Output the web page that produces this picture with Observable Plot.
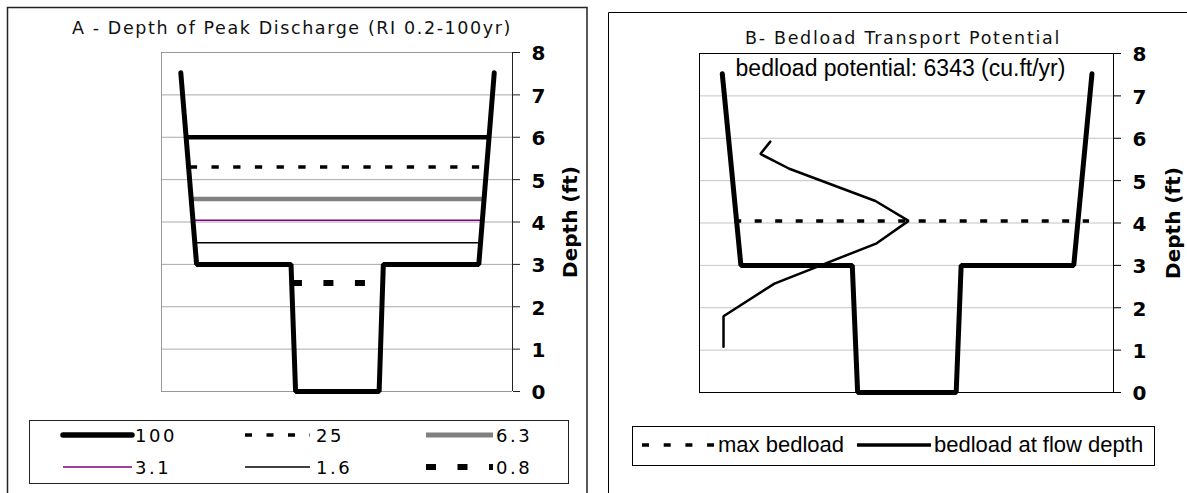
<!DOCTYPE html>
<html><head><meta charset="utf-8">
<script src="https://cdn.jsdelivr.net/npm/d3@7"></script>
<script src="https://cdn.jsdelivr.net/npm/@observablehq/plot@0.6"></script>
<style>
html,body{margin:0;padding:0;background:#fff;}
#root{position:relative;width:1187px;height:493px;overflow:hidden;}
#root > svg{position:absolute;}
</style></head><body><div id="root"></div>
<script>
// ---- data ----
// channel cross-section (relative station, depth ft)
const stations = [5.5, 10, 36.9, 38.2, 62, 63.2, 90.4, 94.8];
const elevations = [7.52, 3, 3, 0, 0, 3, 3, 7.52];
// panel A: recurrence interval (yr) -> depth of peak discharge
const flowLabels = ["100", "25", "6.3", "3.1", "1.6", "0.8"];
const flowDepths = [6.0, 5.3, 4.54, 4.04, 3.51, 2.56];
const flowLeft = [7.4, 8.2, 8.3, 9.0, 9.6, 37.3];
const flowRight = [93.3, 92.7, 92.0, 91.1, 90.3, 63.0];
// panel B: bedload at flow depth
const bedloadX = [17.1, 14.7, 21.7, 42.5, 50.5, 42.8, 18.1, 5.8, 5.8];
const bedloadDepth = [5.92, 5.63, 5.28, 4.52, 4.05, 3.52, 2.57, 1.8, 1.08];
const maxBedloadDepth = [4.05];
const maxBedloadFrom = [8.5];
const maxBedloadTo = [94.2];
const bedloadPotential = 6343;
const yTicks = [0, 1, 2, 3, 4, 5, 6, 7, 8];
const gridTicks = [1, 2, 3, 4, 5, 6, 7];
const titleA = "A - Depth of Peak Discharge (RI 0.2-100yr)";
const titleB = "B- Bedload Transport Potential";
const axisLabel = "Depth (ft)";
const legendB = ["max bedload", "bedload at flow depth"];

// ---- styles ----
const flowStyles = [
  {stroke: "#000", strokeWidth: 4.5},
  {stroke: "#000", strokeWidth: 3.5, strokeDasharray: "7.3,14.4"},
  {stroke: "#808080", strokeWidth: 4.5},
  {stroke: "#800080", strokeWidth: 1.5},
  {stroke: "#000", strokeWidth: 1.3},
  {stroke: "#000", strokeWidth: 6, strokeDasharray: "10,21.5"}
];
const swatchStyles = [
  {stroke: "#000", width: 5.5, cap: "round"},
  {stroke: "#000", width: 3.5, dash: "7,14.5", cap: "butt"},
  {stroke: "#808080", width: 5, cap: "butt"},
  {stroke: "#800080", width: 1.5, cap: "butt"},
  {stroke: "#000", width: 1.3, cap: "butt"},
  {stroke: "#000", width: 6, dash: "10,21.5", cap: "butt"}
];

const root = document.getElementById("root");
const channel = stations.map((s, i) => ({x: s, y: elevations[i]}));
const flows = flowLabels.map((l, i) => ({label: l, depth: flowDepths[i], left: flowLeft[i], right: flowRight[i]}));
const curve = bedloadX.map((v, i) => ({x: v, y: bedloadDepth[i]}));

// ---- overlay: panel borders, titles, legends ----
const ov = d3.select(root).append("svg").attr("width", 1187).attr("height", 493).style("left", "0px").style("top", "0px");
ov.append("path").attr("d", "M7.5,495V7.5H587V495").attr("fill", "none").attr("stroke", "#222").attr("stroke-width", 1.5);
ov.append("path").attr("d", "M608.5,495V12.5H1190").attr("fill", "none").attr("stroke", "#000").attr("stroke-width", 1);
const tfont = "'DejaVu Sans', Verdana, sans-serif";
ov.append("text").attr("x", 292).attr("y", 34).attr("text-anchor", "middle").attr("font-family", tfont)
  .attr("font-size", 17.5).attr("letter-spacing", 1.6).attr("fill", "#111").text(titleA);
ov.append("text").attr("x", 903).attr("y", 44).attr("text-anchor", "middle").attr("font-family", tfont)
  .attr("font-size", 17.5).attr("letter-spacing", 1.7).attr("fill", "#111").text(titleB);

// legend A
ov.append("rect").attr("x", 29.5).attr("y", 420.5).attr("width", 539).attr("height", 63).attr("fill", "none").attr("stroke", "#222");
const colSw = [[63, 132], [245, 310], [426, 493]];
const colTx = [135, 316, 496];
const rowY = [435, 467];
flowLabels.forEach((l, i) => {
  const r = Math.floor(i / 3), c = i % 3, s = swatchStyles[i];
  ov.append("line").attr("x1", colSw[c][0]).attr("x2", colSw[c][1]).attr("y1", rowY[r]).attr("y2", rowY[r])
    .attr("stroke", s.stroke).attr("stroke-width", s.width).attr("stroke-dasharray", s.dash || null).attr("stroke-linecap", s.cap);
  ov.append("text").attr("x", colTx[c]).attr("y", rowY[r] + 7).attr("font-family", tfont).attr("font-size", 18)
    .attr("letter-spacing", 2.5).attr("fill", "#000").text(l);
});

// legend B
ov.append("rect").attr("x", 632.5).attr("y", 426.5).attr("width", 522).attr("height", 39).attr("fill", "none").attr("stroke", "#000");
ov.append("line").attr("x1", 642).attr("x2", 714).attr("y1", 445).attr("y2", 445).attr("stroke", "#000")
  .attr("stroke-width", 3.5).attr("stroke-dasharray", "7,14.7");
ov.append("line").attr("x1", 857).attr("x2", 931).attr("y1", 445).attr("y2", 445).attr("stroke", "#000").attr("stroke-width", 3.3);
const afont = "'Liberation Sans', Arial, sans-serif";
ov.append("text").attr("x", 718).attr("y", 452).attr("font-family", afont).attr("font-size", 22).attr("fill", "#000").text(legendB[0]);
ov.append("text").attr("x", 934).attr("y", 452).attr("font-family", afont).attr("font-size", 22).attr("fill", "#000").text(legendB[1]);

// y axis pieces shared by both panels
function rightAxis(lineColor, labelDx) {
  return [
    Plot.axisY(yTicks, {anchor: "right", tickSize: 7, stroke: lineColor, label: null, tickFormat: () => ""}),
    Plot.text(yTicks, {y: d => d, text: d => String(d), frameAnchor: "right", textAnchor: "start", lineAnchor: "middle",
      dx: 19, dy: 1.5, fontSize: 20, fontWeight: "bold", fill: "#000"}),
    Plot.text([axisLabel], {text: d => d, frameAnchor: "right", textAnchor: "middle", lineAnchor: "middle",
      dx: labelDx, rotate: -90, fontSize: 20, fontWeight: "bold", letterSpacing: 0.5})
  ];
}

// ---- panel A chart ----
const plotA = Plot.plot({
  width: 587, height: 493, marginLeft: 161, marginRight: 75, marginTop: 52, marginBottom: 102,
  x: {domain: [0, 100], axis: null},
  y: {domain: [0, 8], axis: null},
  style: {background: "transparent", fontFamily: tfont, color: "#000", overflow: "visible"},
  marks: [
    Plot.gridY(gridTicks, {stroke: "#a8a8a8", strokeOpacity: 1}),
    Plot.ruleY([0, 8], {stroke: "#999"}),
    Plot.ruleX([0], {stroke: "#999"}),
    ...flows.map((f, i) => Plot.ruleY([f], {y: "depth", x1: "left", x2: "right", ...flowStyles[i]})),
    Plot.line(channel, {x: "x", y: "y", stroke: "#000", strokeWidth: 5, strokeLinejoin: "miter", strokeLinecap: "round"}),
    Plot.ruleX([100], {stroke: "#222"}),
    ...rightAxis("#222", 58)
  ]
});
plotA.style.left = "0px"; plotA.style.top = "0px";
root.appendChild(plotA);

// ---- panel B chart ----
const plotB = Plot.plot({
  width: 587, height: 493, marginLeft: 99, marginRight: 74, marginTop: 53, marginBottom: 101,
  x: {domain: [0, 100], axis: null},
  y: {domain: [0, 8], axis: null},
  style: {background: "transparent", fontFamily: tfont, color: "#000", overflow: "visible"},
  marks: [
    Plot.gridY(gridTicks, {stroke: "#c4c4c4", strokeOpacity: 1}),
    Plot.frame({stroke: "#000"}),
    Plot.ruleY(maxBedloadDepth, {y: d => d, x1: maxBedloadFrom[0], x2: maxBedloadTo[0], stroke: "#000", strokeWidth: 3.5, strokeDasharray: "7,13.5"}),
    Plot.line(curve, {x: "x", y: "y", stroke: "#000", strokeWidth: 2.5, strokeLinejoin: "miter"}),
    Plot.line(channel, {x: "x", y: "y", stroke: "#000", strokeWidth: 5, strokeLinejoin: "miter", strokeLinecap: "round"}),
    ...rightAxis("#000", 60),
    Plot.text([`bedload potential: ${bedloadPotential} (cu.ft/yr)`], {text: d => d, frameAnchor: "top", textAnchor: "middle", lineAnchor: "middle", dy: 15, dx: -6, fontFamily: afont, fontSize: 23})
  ]
});
plotB.style.left = "600px"; plotB.style.top = "0px";
root.appendChild(plotB);
</script></body></html>
